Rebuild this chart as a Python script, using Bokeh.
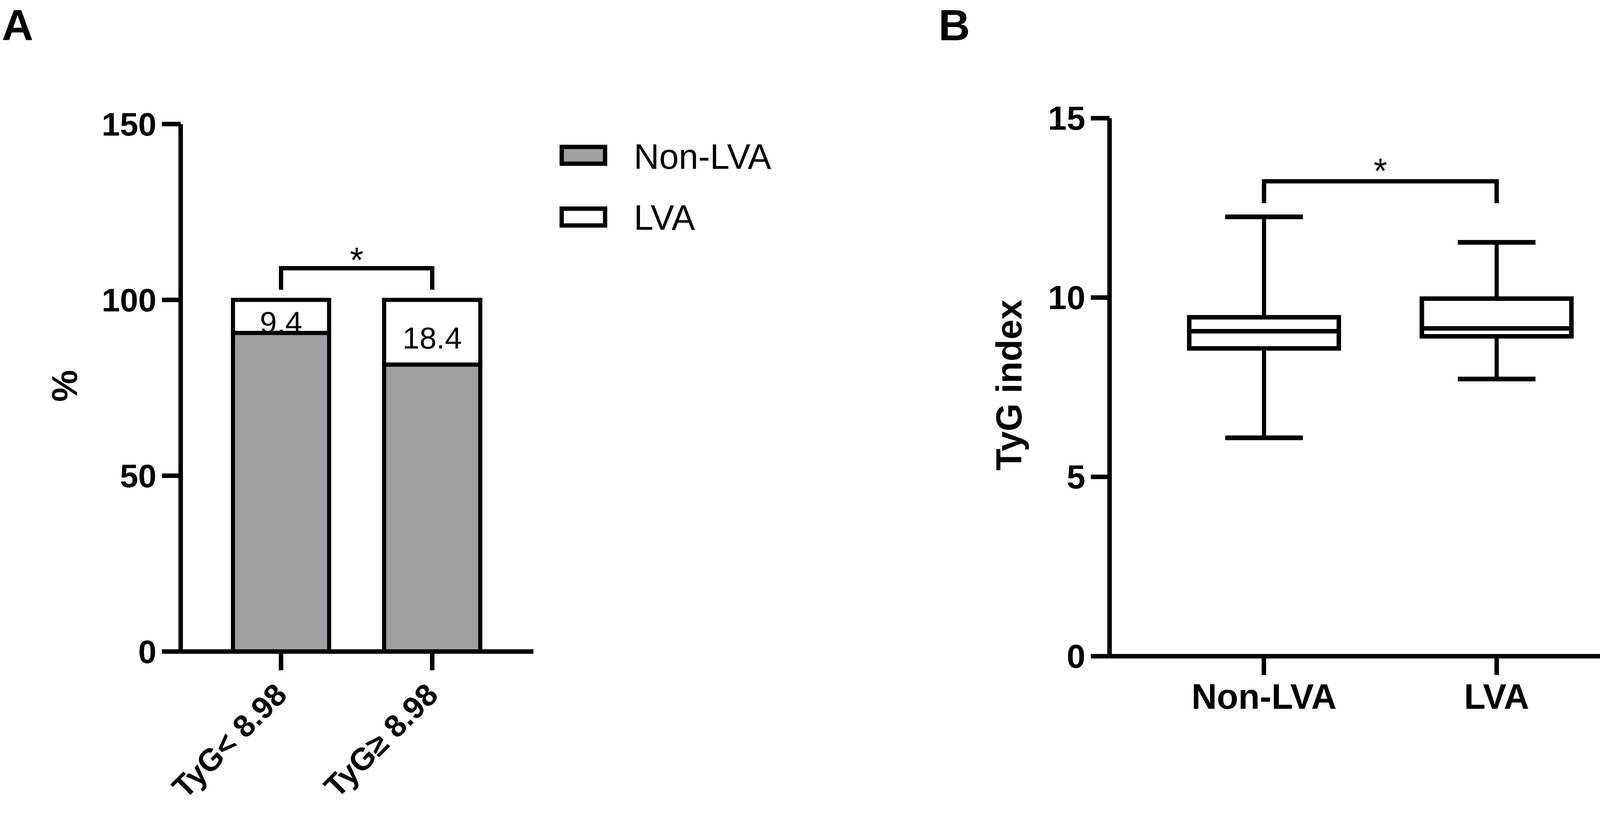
import math
from bokeh.plotting import figure
from bokeh.models import Range1d, FixedTicker
from bokeh.layouts import row
from bokeh.embed import file_html
from bokeh.resources import INLINE
from bokeh.core.properties import value

FONT = "Liberation Sans"
GRAY = "#A09FA4"

# ---------------- data ----------------
# Panel A: stacked percentage bars
groups_a = ["TyG< 8.98", "TyG≥ 8.98"]
non_lva_pct = [90.6, 81.6]
lva_pct = [9.4, 18.4]
legend_labels = ["Non-LVA", "LVA"]

# Panel B: box plots of TyG index
groups_b = ["Non-LVA", "LVA"]
whisker_low = [6.09, 7.73]
q1 = [8.58, 8.92]
median = [9.06, 9.14]
q3 = [9.45, 9.97]
whisker_high = [12.25, 11.54]

# significance brackets: [bracket top, leg end, star height]
sig_a = [109.0, 102.9, 111.3]
sig_b = [13.24, 12.63, 13.52]

xs = [0, 1]
LW = 11.5
X0 = -0.664          # left end of both category axes
H = 2075

# ---------------- layout constants (screen px of the page) ----------------
# Panel A figure covers screen x 8..2300, panel B 2300..4247, both y 8..2083
A_W, B_W = 2292, 1947
A_AX_X, A_AX_Y = 470, 1675     # screen position of panel A axes
A_KX, A_KY = 387.0, 9.0        # px per data unit
B_AX_X, B_AX_Y = 2848, 1687
B_KX, B_KY = 595.5, 91.8


def a_x(sx):
    return X0 + (sx - A_AX_X) / A_KX


def a_y(sy):
    return (A_AX_Y - sy) / A_KY


def b_x(sx):
    return X0 + (sx - B_AX_X) / B_KX


def b_y(sy):
    return (B_AX_Y - sy) / B_KY


def style(p, tick_size):
    p.grid.visible = False
    p.outline_line_color = None
    p.background_fill_color = "white"
    p.border_fill_color = "white"
    for ax in p.axis:
        ax.axis_line_width = LW
        ax.axis_line_color = "black"
        ax.major_tick_line_width = LW
        ax.major_tick_line_color = "black"
        ax.major_tick_out = 48
        ax.major_tick_in = 0
        ax.minor_tick_out = 0
        ax.minor_tick_in = 0
        ax.major_label_text_font = FONT
        ax.major_label_text_font_style = "bold"
        ax.major_label_text_font_size = tick_size
        ax.major_label_text_color = "black"
        ax.major_label_standoff = 14


def big_text(p, x, y, txt, size, angle=0.0, align="left"):
    p.text(x=[x], y=[y], text=[txt], angle=angle, text_font=value(FONT),
           text_font_size=size, text_font_style="bold",
           text_color="black", text_align=align, text_baseline="middle")


# ---------------- Panel A (with legend area) ----------------
pA = figure(width=A_W, height=H,
            x_range=Range1d(a_x(8), a_x(8 + A_W)), y_range=Range1d(a_y(8 + H), a_y(8)),
            toolbar_location=None, output_backend="svg", min_border=0)
style(pA, "84px")
pA.yaxis.ticker = FixedTicker(ticks=[0, 50, 100, 150])
pA.yaxis.bounds = (0, 150)
pA.yaxis.fixed_location = X0
pA.xaxis.ticker = FixedTicker(ticks=xs)
pA.xaxis.bounds = (X0, X0 + 903 / A_KX)
pA.xaxis.fixed_location = 0
pA.xaxis.major_label_overrides = {x: g for x, g in zip(xs, groups_a)}
pA.xaxis.major_label_orientation = math.pi / 4
pA.xaxis.major_label_text_font_size = "80px"
pA.xaxis.major_label_standoff = 48

tops = [n + l for n, l in zip(non_lva_pct, lva_pct)]
pA.vbar(x=xs, bottom=0, top=non_lva_pct, width=0.636,
        fill_color=GRAY, line_color="black", line_width=10.5, line_join="miter")
pA.vbar(x=xs, bottom=non_lva_pct, top=tops, width=0.636,
        fill_color="white", line_color="black", line_width=10.5, line_join="miter")
pA.text(x=xs, y=[n + l / 2 for n, l in zip(non_lva_pct, lva_pct)],
        text=[f"{v:.1f}" for v in lva_pct],
        text_font=value(FONT), text_font_size="78px", text_color="black",
        text_align="center", text_baseline="middle", y_offset=15)
pA.line(x=[xs[0], xs[0], xs[1], xs[1]], y=[sig_a[1], sig_a[0], sig_a[0], sig_a[1]],
        line_width=11, line_color="black", line_join="miter")
pA.text(x=[0.5], y=[sig_a[2]], text=["*"], text_font=value(FONT),
        text_font_size="90px", text_align="center", text_baseline="middle")

# legend (swatches + labels) right of the bars
pA.rect(x=[a_x(1501)] * 2, y=[a_y(405), a_y(563)], width=111, height=43,
        width_units="screen", height_units="screen",
        fill_color=[GRAY, "white"], line_color="black", line_width=11, line_join="miter")
pA.text(x=[a_x(1630)] * 2, y=[a_y(408), a_y(564)], text=legend_labels,
        text_font=value(FONT), text_font_size="90px", text_color="black",
        text_align="left", text_baseline="middle")

# axis title and panel letter
big_text(pA, a_x(172), a_y(995), "%", "92px", angle=math.pi / 2, align="center")
big_text(pA, a_x(12), a_y(72), "A", "112px")

# ---------------- Panel B ----------------
pB = figure(width=B_W, height=H,
            x_range=Range1d(b_x(2300), b_x(2300 + B_W)), y_range=Range1d(b_y(8 + H), b_y(8)),
            toolbar_location=None, output_backend="svg", min_border=0)
style(pB, "86px")
pB.yaxis.ticker = FixedTicker(ticks=[0, 5, 10, 15])
pB.yaxis.bounds = (0, 15)
pB.yaxis.fixed_location = X0
pB.xaxis.ticker = FixedTicker(ticks=xs)
pB.xaxis.bounds = (X0, X0 + 1391 / B_KX)
pB.xaxis.fixed_location = 0
pB.xaxis.major_label_overrides = {x: g for x, g in zip(xs, groups_b)}
pB.xaxis.major_label_text_font_size = "90px"
pB.xaxis.major_label_standoff = 5

BOX_W = 0.643
CAP_W = 0.334
pB.segment(x0=xs, y0=q3, x1=xs, y1=whisker_high, line_width=10.5, line_color="black")
pB.segment(x0=xs, y0=q1, x1=xs, y1=whisker_low, line_width=10.5, line_color="black")
pB.segment(x0=[x - CAP_W / 2 for x in xs], y0=whisker_high,
           x1=[x + CAP_W / 2 for x in xs], y1=whisker_high, line_width=12, line_color="black")
pB.segment(x0=[x - CAP_W / 2 for x in xs], y0=whisker_low,
           x1=[x + CAP_W / 2 for x in xs], y1=whisker_low, line_width=12, line_color="black")
pB.vbar(x=xs, bottom=q1, top=q3, width=BOX_W, fill_color="white",
        line_color="black", line_width=LW, line_join="miter")
pB.segment(x0=[x - BOX_W / 2 for x in xs], y0=median,
           x1=[x + BOX_W / 2 for x in xs], y1=median, line_width=LW, line_color="black")
pB.line(x=[xs[0], xs[0], xs[1], xs[1]], y=[sig_b[1], sig_b[0], sig_b[0], sig_b[1]],
        line_width=11, line_color="black", line_join="miter")
pB.text(x=[0.5], y=[sig_b[2]], text=["*"], text_font=value(FONT),
        text_font_size="90px", text_align="center", text_baseline="middle")

big_text(pB, b_x(2590), b_y(993), "TyG index", "92px", angle=math.pi / 2, align="center")
big_text(pB, b_x(2410), b_y(72), "B", "112px")

layout = row(pA, pB)
open("out.html", "w").write(file_html(layout, INLINE))
